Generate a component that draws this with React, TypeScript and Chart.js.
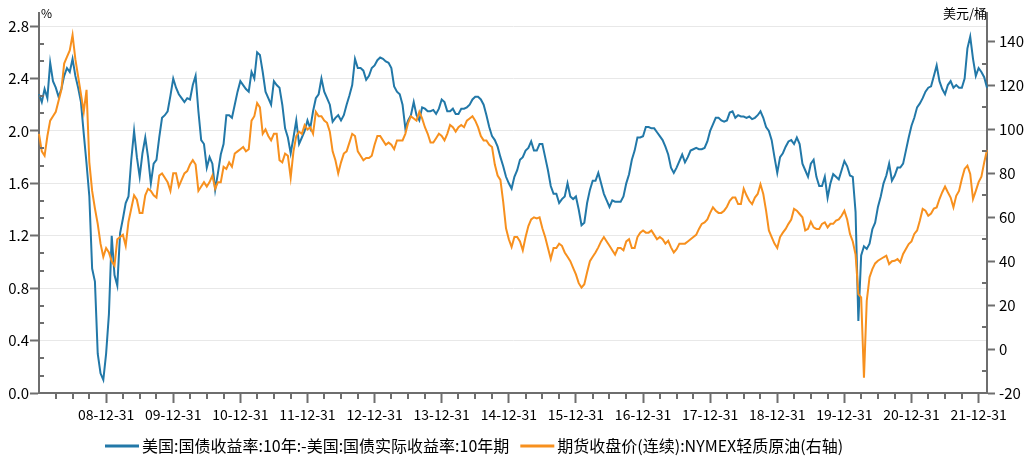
import React, { useEffect, useRef } from "react";
import { Chart, registerables } from "chart.js";

Chart.register(...registerables);

const FONT = '"Noto Sans CJK SC", "Noto Sans", sans-serif';
const AXIS = "#6e6e6e";
const BLUE = "#2278a8";
const ORANGE = "#f7901e";

const blueName = "美国:国债收益率:10年:-美国:国债实际收益率:10年期";
const oilName = "期货收盘价(连续):NYMEX轻质原油(右轴)";
const leftUnit = "%";
const rightUnit = "美元/桶";

// semi-monthly categories: 08-01-01, 08-01-15, 08-01-31, ... 22-02-15
const dates: string[] = (() => {
  const out = ["08-01-01"];
  for (let y = 2008; y <= 2022; y++) {
    for (let m = 1; m <= 12; m++) {
      const yy = String(y % 100).padStart(2, "0");
      const mm = String(m).padStart(2, "0");
      out.push(`${yy}-${mm}-15`);
      if (y === 2022 && m === 2) return out;
      const last = new Date(y, m, 0).getDate();
      out.push(`${yy}-${mm}-${last}`);
    }
  }
  return out;
})();

const xTickLabels = [
  "08-12-31", "09-12-31", "10-12-31", "11-12-31", "12-12-31", "13-12-31", "14-12-31",
  "15-12-31", "16-12-31", "17-12-31", "18-12-31", "19-12-31", "20-12-31", "21-12-31",
];
const leftTicks = [0, 0.4, 0.8, 1.2, 1.6, 2.0, 2.4, 2.8];
const rightTicks = [-20, 0, 20, 40, 60, 80, 100, 120, 140];
const rightMinorTicks = [-10, 10, 30, 50, 70, 90, 110, 130];

// 美国10年期国债收益率 - 实际收益率 (%)
const breakeven2008 = [2.28, 2.22, 2.32, 2.25, 2.52, 2.38, 2.33, 2.26, 2.32, 2.42, 2.48, 2.45, 2.55, 2.42, 2.33, 2.22, 1.98, 1.75, 1.5, 0.95, 0.85, 0.3, 0.15, 0.1];
const breakeven2009 = [0.3, 0.6, 1.2, 0.9, 0.82, 1.22, 1.33, 1.45, 1.5, 1.78, 2.0, 1.8, 1.65, 1.83, 1.95, 1.8, 1.6, 1.75, 1.78, 1.95, 2.1, 2.12, 2.15, 2.27];
const breakeven2010 = [2.4, 2.33, 2.28, 2.25, 2.22, 2.25, 2.24, 2.35, 2.42, 2.15, 1.93, 1.9, 1.72, 1.8, 1.75, 1.55, 1.68, 1.82, 1.9, 2.12, 2.12, 2.1, 2.2, 2.3];
const breakeven2011 = [2.38, 2.35, 2.32, 2.3, 2.45, 2.4, 2.6, 2.58, 2.45, 2.3, 2.25, 2.2, 2.38, 2.35, 2.33, 2.2, 2.02, 1.95, 1.83, 1.95, 2.08, 1.9, 1.95, 2.0];
const breakeven2012 = [2.08, 2.02, 2.15, 2.25, 2.28, 2.4, 2.3, 2.25, 2.2, 2.07, 2.1, 2.12, 2.08, 2.12, 2.2, 2.27, 2.35, 2.55, 2.48, 2.48, 2.46, 2.39, 2.42, 2.48];
const breakeven2013 = [2.5, 2.54, 2.56, 2.55, 2.53, 2.52, 2.48, 2.34, 2.3, 2.28, 2.2, 2.02, 2.08, 2.12, 2.22, 2.12, 2.08, 2.18, 2.17, 2.15, 2.15, 2.16, 2.13, 2.17];
const breakeven2014 = [2.24, 2.22, 2.15, 2.15, 2.17, 2.13, 2.13, 2.17, 2.17, 2.18, 2.2, 2.24, 2.26, 2.26, 2.24, 2.2, 2.12, 2.03, 1.96, 1.93, 1.88, 1.8, 1.73, 1.65];
const breakeven2015 = [1.6, 1.56, 1.65, 1.7, 1.78, 1.8, 1.85, 1.87, 1.92, 1.85, 1.85, 1.9, 1.9, 1.8, 1.7, 1.58, 1.52, 1.52, 1.45, 1.48, 1.5, 1.6, 1.5, 1.48];
const breakeven2016 = [1.5, 1.4, 1.28, 1.3, 1.45, 1.55, 1.62, 1.62, 1.68, 1.6, 1.52, 1.47, 1.42, 1.47, 1.46, 1.46, 1.46, 1.5, 1.6, 1.67, 1.78, 1.85, 1.95, 1.95];
const breakeven2017 = [1.96, 2.03, 2.03, 2.02, 2.02, 1.99, 1.96, 1.93, 1.88, 1.82, 1.72, 1.68, 1.72, 1.77, 1.82, 1.76, 1.8, 1.85, 1.86, 1.87, 1.86, 1.86, 1.87, 1.92];
const breakeven2018 = [2.0, 2.05, 2.1, 2.1, 2.08, 2.07, 2.08, 2.14, 2.15, 2.1, 2.12, 2.11, 2.11, 2.1, 2.11, 2.09, 2.1, 2.12, 2.15, 2.1, 2.03, 2.0, 1.93, 1.8];
const breakeven2019 = [1.68, 1.8, 1.83, 1.88, 1.92, 1.93, 1.9, 1.95, 1.9, 1.75, 1.7, 1.65, 1.75, 1.78, 1.65, 1.58, 1.58, 1.65, 1.49, 1.6, 1.67, 1.65, 1.63, 1.7];
const breakeven2020 = [1.77, 1.73, 1.66, 1.65, 1.38, 0.55, 1.05, 1.12, 1.1, 1.14, 1.25, 1.3, 1.42, 1.5, 1.6, 1.66, 1.75, 1.62, 1.66, 1.72, 1.72, 1.75, 1.85, 1.95];
const breakeven2021 = [2.04, 2.1, 2.18, 2.21, 2.25, 2.3, 2.33, 2.34, 2.42, 2.5, 2.38, 2.32, 2.28, 2.35, 2.38, 2.33, 2.35, 2.33, 2.33, 2.4, 2.63, 2.72, 2.55, 2.42];
const breakeven2022 = [2.48, 2.45, 2.41, 2.33];

// NYMEX WTI 连续合约收盘价 (美元/桶)
const oil2008 = [98, 90, 88, 97, 104, 106, 108, 113, 118, 130, 133, 136, 143, 132, 124, 116, 108, 118, 85, 72, 64, 57, 48, 42];
const oil2009 = [46, 44, 40, 38, 50, 51, 52, 47, 58, 64, 70, 68, 62, 62, 70, 73, 72, 70, 69, 79, 80, 78, 76, 72];
const oil2010 = [80, 80, 74, 77, 80, 81, 84, 86, 84, 72, 74, 76, 74, 76, 79, 73, 76, 76, 83, 82, 85, 83, 89, 90];
const oil2011 = [91, 92, 90, 91, 104, 106, 112, 110, 98, 100, 97, 95, 98, 98, 86, 85, 89, 88, 78, 90, 97, 99, 98, 102];
const oil2012 = [100, 101, 98, 108, 106, 106, 104, 103, 99, 90, 86, 80, 85, 89, 90, 94, 98, 97, 90, 88, 86, 87, 87, 88];
const oil2013 = [93, 97, 97, 95, 93, 94, 93, 91, 95, 95, 95, 98, 103, 106, 105, 104, 108, 105, 101, 98, 94, 94, 96, 98];
const oil2014 = [97, 95, 98, 102, 101, 99, 101, 102, 101, 104, 105, 106, 104, 101, 97, 95, 95, 93, 92, 84, 79, 77, 67, 55];
const oil2015 = [50, 46.5, 51, 51, 49, 45, 51, 56, 59, 60, 59.5, 60, 55, 51, 46, 41, 46, 46, 48, 47, 44, 42, 40, 37];
const oil2016 = [34, 30, 28, 29.5, 35, 40, 42, 44, 46.3, 49, 51, 49, 47, 45, 43, 46, 46, 45, 49, 50, 46, 46, 51, 53];
const oil2017 = [54, 53, 53, 54, 52, 50, 51, 50, 48, 49.3, 46.3, 44, 45.5, 48, 48, 48, 49, 50, 51, 52, 54.7, 57, 57.7, 59];
const oil2018 = [62, 64.5, 63, 62, 62, 63, 64.8, 67.5, 69, 69, 66, 66, 73, 70, 67.5, 66, 69, 70.6, 75, 70.6, 63, 54, 51, 48];
const oil2019 = [46, 51, 53, 54.7, 57, 59, 63.8, 63, 61.5, 60, 54, 54.7, 58, 55.4, 54.7, 54.7, 57, 57.7, 55.4, 57, 57, 58.5, 59, 60.7];
const oil2020 = [63, 59, 52.4, 49, 43, 25, 23.5, -13, 22, 32.7, 36.4, 39, 40.2, 41, 41.8, 42.5, 38.7, 40, 40.2, 41, 39.5, 43.3, 45.6, 47.8];
const oil2021 = [49, 52.4, 54, 58.5, 63.8, 63, 60.7, 61.7, 64, 64.5, 68.3, 71.4, 74, 71.4, 69, 64.5, 69.8, 72, 77.4, 82, 83.5, 79.7, 68.3, 72];
const oil2022 = [76, 78.5, 85, 90.6];

const breakeven = [
  ...breakeven2008, ...breakeven2009, ...breakeven2010, ...breakeven2011, ...breakeven2012,
  ...breakeven2013, ...breakeven2014, ...breakeven2015, ...breakeven2016, ...breakeven2017,
  ...breakeven2018, ...breakeven2019, ...breakeven2020, ...breakeven2021, ...breakeven2022,
];
const oil = [
  ...oil2008, ...oil2009, ...oil2010, ...oil2011, ...oil2012, ...oil2013, ...oil2014,
  ...oil2015, ...oil2016, ...oil2017, ...oil2018, ...oil2019, ...oil2020, ...oil2021, ...oil2022,
];

const decorPlugin = {
  id: "decor",
  afterDraw(chart: any) {
    const ctx = chart.ctx as CanvasRenderingContext2D;
    const { left, right, bottom } = chart.chartArea;
    const yL = chart.scales.y;
    const yR = chart.scales.y1;
    const x = chart.scales.x;
    ctx.save();
    ctx.strokeStyle = AXIS;
    ctx.lineWidth = 2;
    ctx.beginPath();
    // left minor ticks (inside)
    for (let k = 1; k <= 21; k++) {
      if (k % 3 === 0) continue;
      const py = Math.round(yL.getPixelForValue((k * 0.4) / 3));
      ctx.moveTo(left, py);
      ctx.lineTo(left + 5, py);
    }
    // right minor ticks (inside)
    for (const v of rightMinorTicks) {
      const py = Math.round(yR.getPixelForValue(v));
      ctx.moveTo(right, py);
      ctx.lineTo(right - 5, py);
    }
    // x quarterly minor ticks
    dates.forEach((d, i) => {
      if (/-(03-31|06-30|09-30)$/.test(d)) {
        const px = Math.round(x.getPixelForValue(i));
        ctx.moveTo(px, bottom);
        ctx.lineTo(px, bottom + 6);
      }
    });
    ctx.stroke();

    // units
    ctx.fillStyle = "#000";
    ctx.textBaseline = "middle";
    ctx.font = `12px ${FONT}`;
    ctx.textAlign = "left";
    ctx.fillText(leftUnit, left + 2, 13);
    ctx.font = `13px ${FONT}`;
    ctx.textAlign = "right";
    ctx.fillText(rightUnit, right, 13);

    // legend
    ctx.font = `16px ${FONT}`;
    ctx.textAlign = "left";
    const ly = 446;
    let lx = 105;
    const items = [
      { name: blueName, color: BLUE },
      { name: oilName, color: ORANGE },
    ];
    items.forEach((it) => {
      ctx.strokeStyle = it.color;
      ctx.lineWidth = 3;
      ctx.beginPath();
      ctx.moveTo(lx, ly);
      ctx.lineTo(lx + 34, ly);
      ctx.stroke();
      ctx.fillStyle = "#000";
      ctx.fillText(it.name, lx + 37, ly);
      lx += 37 + ctx.measureText(it.name).width + 11;
    });
    ctx.restore();
  },
};

export default function App() {
  const ref = useRef<HTMLCanvasElement>(null);
  useEffect(() => {
    if (!ref.current) return;
    const xTickIdx = xTickLabels.map((l) => dates.indexOf(l));
    const chart = new Chart(ref.current, {
      type: "line",
      data: {
        labels: dates,
        datasets: [
          {
            label: blueName,
            data: breakeven,
            yAxisID: "y",
            borderColor: BLUE,
            backgroundColor: BLUE,
            borderWidth: 2,
            pointRadius: 0,
            tension: 0,
            order: 2,
          },
          {
            label: oilName,
            data: oil,
            yAxisID: "y1",
            borderColor: ORANGE,
            backgroundColor: ORANGE,
            borderWidth: 2,
            pointRadius: 0,
            tension: 0,
            order: 1,
          },
        ],
      },
      options: {
        animation: false,
        responsive: true,
        maintainAspectRatio: false,
        layout: { padding: { top: 12, left: 0, right: 0, bottom: 0 } },
        plugins: { legend: { display: false }, tooltip: { enabled: false } },
        scales: {
          x: {
            type: "category",
            offset: false,
            afterBuildTicks: (s: any) => {
              s.ticks = xTickIdx.map((v) => ({ value: v }));
            },
            afterFit: (s: any) => {
              s.height = 71;
            },
            grid: {
              drawOnChartArea: false,
              drawTicks: true,
              tickLength: 10,
              tickColor: AXIS,
              tickWidth: 2,
            },
            border: { display: true, color: AXIS, width: 2 },
            ticks: {
              autoSkip: false,
              maxRotation: 0,
              minRotation: 0,
              padding: 3,
              color: "#000",
              font: { family: FONT, size: 14 },
            },
          },
          y: {
            type: "linear",
            position: "left",
            min: 0,
            max: 2.9,
            afterBuildTicks: (s: any) => {
              s.ticks = leftTicks.map((v) => ({ value: v }));
            },
            afterFit: (s: any) => {
              s.width = 39;
            },
            grid: {
              color: "#e8e8e8",
              lineWidth: 1,
              drawTicks: true,
              tickLength: 9,
              tickColor: AXIS,
              tickWidth: 2,
            },
            border: { display: true, color: AXIS, width: 2 },
            ticks: {
              padding: 1,
              color: "#000",
              font: { family: FONT, size: 15 },
              callback: (v: any) => Number(v).toFixed(1),
            },
          },
          y1: {
            type: "linear",
            position: "right",
            min: -20,
            max: 153,
            afterBuildTicks: (s: any) => {
              s.ticks = rightTicks.map((v) => ({ value: v }));
            },
            afterFit: (s: any) => {
              s.width = 46;
            },
            grid: {
              drawOnChartArea: false,
              drawTicks: true,
              tickLength: 8,
              tickColor: AXIS,
              tickWidth: 2,
            },
            border: { display: true, color: AXIS, width: 2 },
            ticks: {
              padding: 4,
              color: "#000",
              font: { family: FONT, size: 15 },
              callback: (v: any) => String(v),
            },
          },
        },
      },
      plugins: [decorPlugin],
    } as any);
    return () => chart.destroy();
  }, []);
  return (
    <div
      style={{
        position: "fixed",
        left: 0,
        top: 0,
        width: 1033,
        height: 464,
        background: "#fff",
      }}
    >
      <canvas ref={ref} />
    </div>
  );
}
